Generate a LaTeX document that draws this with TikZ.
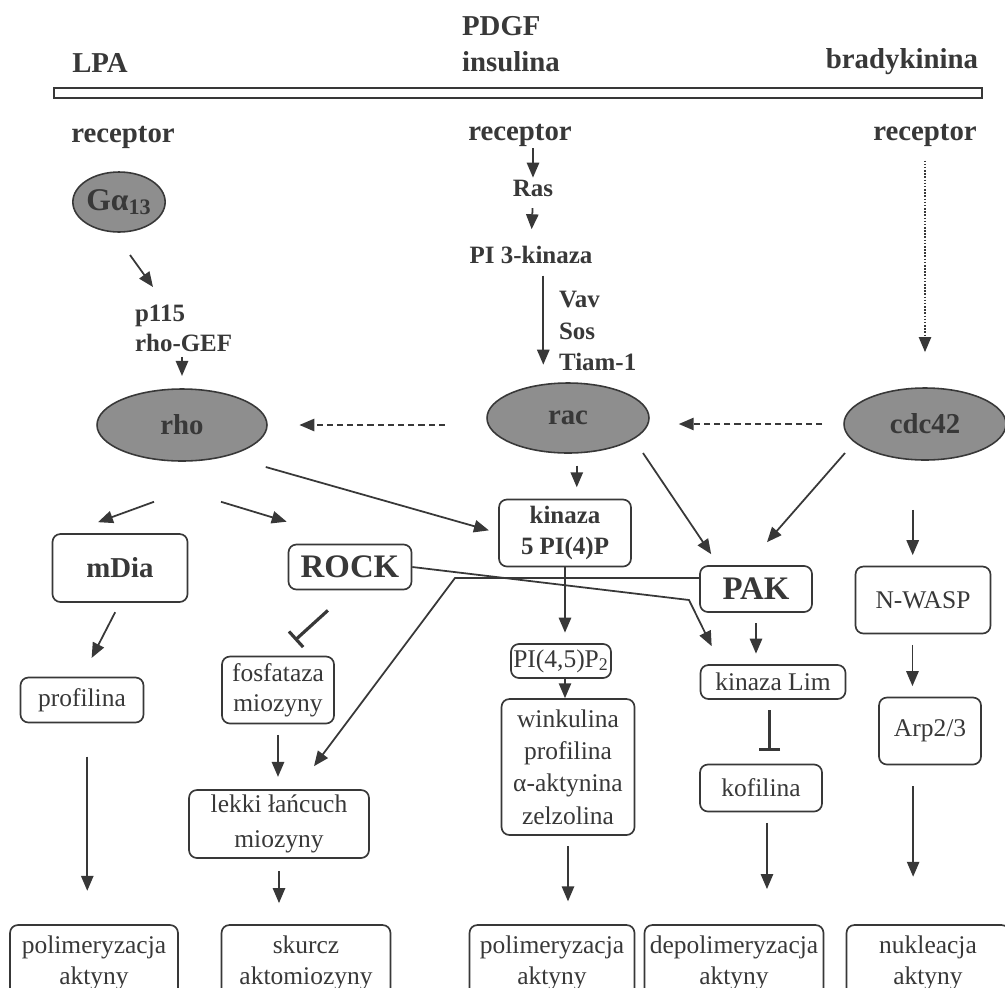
\documentclass[tikz,border=0pt]{standalone}
\usepackage{fontspec}
\setmainfont{Liberation Serif}
\usetikzlibrary{arrows.meta,shapes.geometric}

\definecolor{ink}{HTML}{383838}
\definecolor{blob}{HTML}{8E8E8E}

\begin{document}
\begin{tikzpicture}[x=0.02cm,y=-0.02cm,
	every node/.style={text=ink,inner sep=1pt,font=\fontsize{14.5}{18}\selectfont},
	lab/.style={font=\bfseries\fontsize{16.4}{20.4}\selectfont},
	sml/.style={font=\bfseries\fontsize{14.2}{17.5}\selectfont,align=left},
	gtp/.style={ellipse,draw=ink,line width=0.9pt,fill=blob,inner sep=0pt,font=\bfseries\fontsize{16.4}{20}\selectfont},
	box/.style={draw=ink,rounded corners=4.5pt,line width=0.95pt,align=center,inner sep=0pt},
	arr/.style={draw=ink,line width=1pt,-{Triangle[length=8.5pt,width=7pt]}},
	stopp/.style={draw=ink,line width=1.8pt,-{Bar[width=12pt,line width=1.8pt]}}]
	\useasboundingbox[fill=white] (0,0) rectangle (1005,988);
	% membrana i ligandy
	\node[lab] (lpa) at (100,63) {LPA};
	\node[lab,anchor=west,align=left] (pdgf) at (460,44) {PDGF\\insulina};
	\node[lab] (brady) at (902,62) {bradykinina};
	\draw[ink,line width=0.8pt] (54,88) rectangle (982,98);
	\node[lab] (rcL) at (123,137) {receptor};
	\node[lab] (rcM) at (520,135) {receptor};
	\node[lab] (rcR) at (925,135) {receptor};
	% bialka G
	\node[gtp,minimum width=1.82cm,minimum height=1.2cm,font=\bfseries\fontsize{18}{20}\selectfont] (ga) at (119,202) {Gα\textsubscript{13}};
	\node[sml,anchor=west,font=\bfseries\fontsize{14.2}{17}\selectfont] (gef) at (133,328) {p115\\rho-GEF};
	\node[sml] (ras) at (533,188) {Ras};
	\node[sml] (pi3k) at (531,255) {PI 3-kinaza};
	\node[sml,anchor=west,font=\bfseries\fontsize{14.2}{17.9}\selectfont] (vst) at (557,331) {Vav\\Sos\\Tiam-1};
	\node[gtp,minimum width=3.4cm,minimum height=1.44cm] (rho) at (182,425) {rho};
	\node[gtp,minimum width=3.24cm,minimum height=1.4cm] (rac) at (568,418) {rac};
	\node[gtp,minimum width=3.24cm,minimum height=1.44cm] (cdc) at (925,424) {cdc42};
	% efektory
	\node[box,minimum width=2.7cm,minimum height=1.36cm,font=\bfseries\fontsize{16.4}{20}\selectfont] (mdia) at (120,568) {mDia};
	\node[box,minimum width=2.46cm,minimum height=0.9cm,font=\bfseries\fontsize{18.7}{20}\selectfont] (rock) at (350,567) {ROCK};
	\node[box,minimum width=2.64cm,minimum height=1.34cm,font=\bfseries\fontsize{14.2}{18}\selectfont] (kin5) at (565,533) {kinaza\\5 PI(4)P};
	\node[box,minimum width=2.24cm,minimum height=0.92cm,font=\bfseries\fontsize{18.7}{20}\selectfont] (pak) at (756,589) {PAK};
	\node[box,minimum width=2.7cm,minimum height=1.34cm] (nwasp) at (923,600) {N-WASP};
	\node[box,minimum width=2.46cm,minimum height=0.9cm] (prof) at (82,700) {profilina};
	\node[box,minimum width=2.24cm,minimum height=1.34cm,font=\fontsize{14.5}{17}\selectfont] (fosf) at (278,690) {fosfataza\\miozyny};
	\node[box,minimum width=2.0cm,minimum height=0.68cm] (pip2) at (561,661) {PI(4,5)P\textsubscript{2}};
	\node[box,minimum width=2.66cm,minimum height=2.72cm,font=\fontsize{14.5}{18.4}\selectfont] (wink) at (568,767) {winkulina\\profilina\\α-aktynina\\zelzolina};
	\node[box,minimum width=2.9cm,minimum height=0.68cm] (klim) at (773,682) {kinaza Lim};
	\node[box,minimum width=2.44cm,minimum height=0.94cm] (kof) at (761,788) {kofilina};
	\node[box,minimum width=2.04cm,minimum height=1.34cm] (arp) at (930,731) {Arp2/3};
	\node[box,minimum width=3.6cm,minimum height=1.36cm,font=\fontsize{14.5}{19.8}\selectfont] (lekki) at (279,824) {lekki łańcuch\\miozyny};
	% skutki
	\node[box,minimum width=3.36cm,minimum height=1.52cm] (b1) at (94,963) {polimeryzacja\\aktyny};
	\node[box,minimum width=3.38cm,minimum height=1.52cm] (b2) at (306,963) {skurcz\\aktomiozyny};
	\node[box,minimum width=3.3cm,minimum height=1.52cm] (b3) at (552,963) {polimeryzacja\\aktyny};
	\node[box,minimum width=3.58cm,minimum height=1.52cm] (b4) at (734,963) {depolimeryzacja\\aktyny};
	\node[box,minimum width=3.26cm,minimum height=1.52cm] (b5) at (928,963) {nukleacja\\aktyny};
	\coordinate (bendA) at (689,600);
	\coordinate (bendB) at (455,578);
	% polaczenia
	\draw[arr] ([shift={(11,53)}]ga.center) -- ([shift={(20,-41)}]gef.west);
	\draw[arr,shorten <=2pt,shorten >=7pt] (gef.south -| rho.north) -- (rho.north);
	\draw[arr] (rcM.south -| ras) -- (ras.north);
	\draw[arr,shorten <=5.5pt,shorten >=8.5pt] (ras.south) -- (pi3k.north);
	\draw[arr,shorten <=5.5pt,shorten >=10pt] ([xshift=7pt]pi3k.south) -- ([xshift=7pt]pi3k.south |- rac.north);
	\draw[arr,dash pattern=on 3.5pt off 2.3pt,shorten <=23.5pt,shorten >=18pt] (rac.west |- rho) -- (rho.east);
	\draw[arr,dash pattern=on 3.5pt off 2.3pt,shorten <=12pt,shorten >=16.5pt] (cdc.west) -- (cdc.west -| rac.east);
	\draw[arr,line width=0.75pt,dash pattern=on 0.9pt off 0.9pt,shorten <=7pt,shorten >=20pt] (rcR.south) -- (cdc.north);
	\draw[arr] ([shift={(-28,40)}]rho.south) -- ([shift={(-22,-11)}]mdia.north);
	\draw[arr] ([shift={(39,40)}]rho.south) -- ([shift={(-1,-22)}]rock.north west);
	\draw[arr,shorten >=5.5pt] ([shift={(-2,42)}]rho.east) -- (kin5.west);
	\draw[arr,shorten <=6.8pt,shorten >=6.5pt] ([xshift=5pt]rac.south) -- ([xshift=5pt]rac.south |- kin5.north);
	\draw[arr] ([shift={(75,35)}]rac.center) -- ([shift={(12,-11)}]pak.north west);
	\draw[arr] ([shift={(-80,29)}]cdc.center) -- ([shift={(11,-23)}]pak.north);
	\draw[arr,shorten <=28pt,shorten >=6pt] ([xshift=-7pt]cdc.south) -- ([xshift=-7pt]cdc.south |- nwasp.north);
	\draw[arr,shorten <=6pt,shorten >=12pt] (mdia.south) -- (prof.north);
	\draw[stopp,shorten <=17pt,shorten >=13pt] (rock.south) -- (fosf.north);
	\draw[arr,shorten <=6pt,shorten >=6pt] (pak.south) -- (pak.south |- klim.north);
	\draw[arr] (rock.east) -- (bendA) -- ([shift={(12,-18)}]klim.north west);
	\draw[arr] ([yshift=6.2pt]pak.west) -- (bendB) -- ([shift={(35,-23)}]lekki.north);
	\draw[arr,shorten >=6pt] (kin5.south) -- (kin5.south |- pip2.north);
	\draw[arr] (kin5.south |- pip2.south) -- (kin5.south |- wink.north);
	\draw[stopp,shorten <=6pt,shorten >=7pt] ([xshift=-2pt]klim.south) -- ([xshift=-2pt]klim.south |- kof.north);
	\draw[arr,shorten <=6pt,shorten >=6pt] ([xshift=-6pt]nwasp.south) -- ([xshift=-6pt]nwasp.south |- arp.north);
	\draw[arr,shorten <=19pt,shorten >=19pt] ([xshift=3pt]prof.south) -- ([xshift=3pt]prof.south |- b1.north);
	\draw[arr,shorten <=6pt,shorten >=7pt] (fosf.south) -- (fosf.south |- lekki.north);
	\draw[arr,shorten <=7pt,shorten >=12pt] (lekki.south) -- (lekki.south |- b2.north);
	\draw[arr,shorten <=6pt,shorten >=13pt] (wink.south) -- (wink.south |- b3.north);
	\draw[arr,shorten <=6pt,shorten >=20pt] ([xshift=3.4pt]kof.south) -- ([xshift=3.4pt]kof.south |- b4.north);
	\draw[arr,shorten <=12pt,shorten >=27pt] ([xshift=-9.6pt]arp.south) -- ([xshift=-9.6pt]arp.south |- b5.north);
\end{tikzpicture}
\end{document}
